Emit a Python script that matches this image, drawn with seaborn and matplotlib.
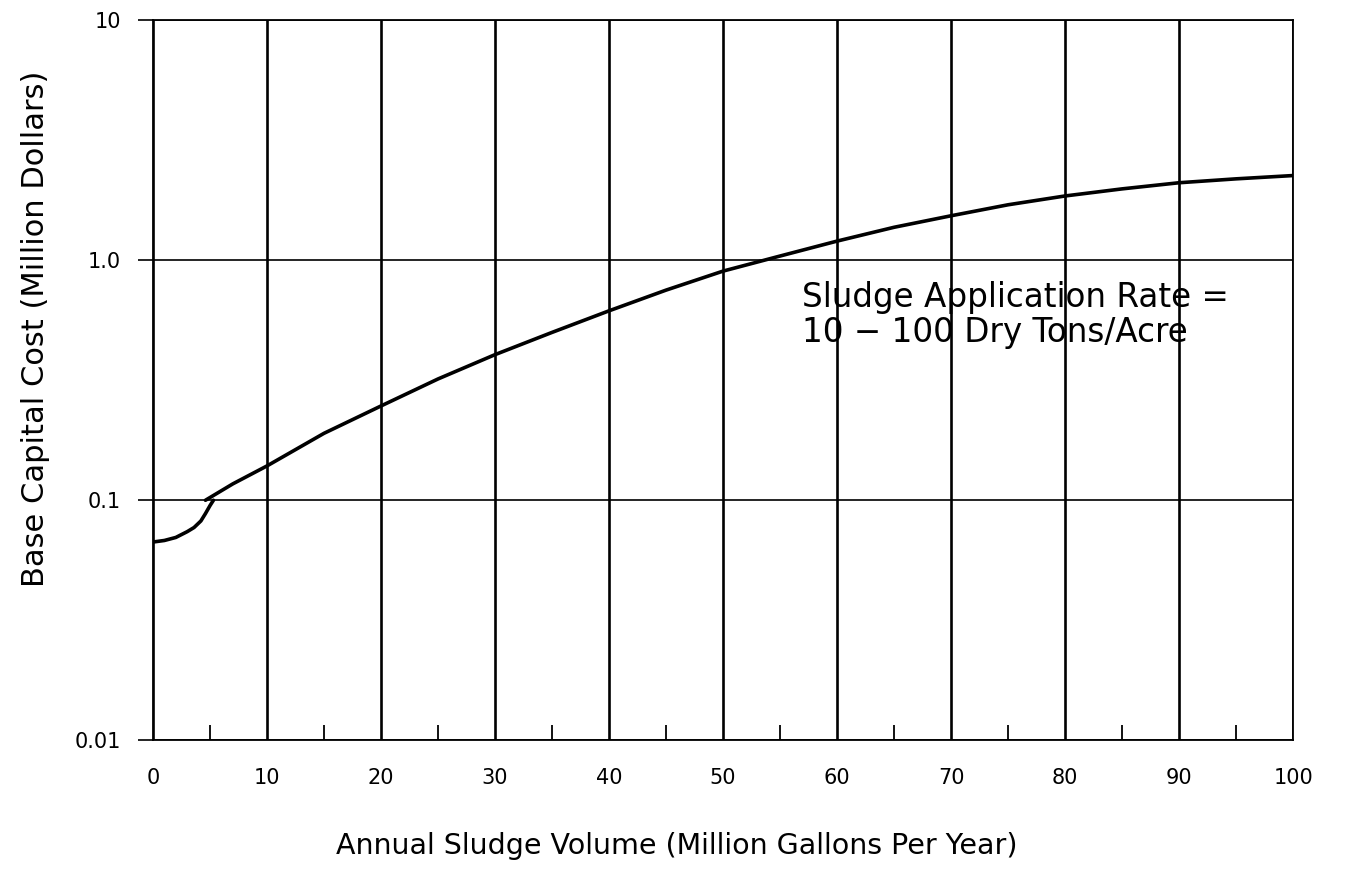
import matplotlib
matplotlib.use("Agg")
import matplotlib.pyplot as plt
import seaborn as sns
from matplotlib.ticker import FixedLocator, FixedFormatter

# Start-up segment (small systems, 0-5 MGY)
x_small = [0, 1, 2, 3, 3.6, 4.2, 4.6, 5.0, 5.3]
cost_small = [0.067, 0.068, 0.070, 0.074, 0.077, 0.082, 0.088, 0.095, 0.100]

# Main cost curve (5-100 MGY)
x_main = [4.6, 7, 10, 15, 20, 25, 30, 35, 40, 45, 50, 55, 60, 65, 70, 75, 80, 85, 90, 95, 100]
cost_main = [0.100, 0.117, 0.139, 0.19, 0.247, 0.32, 0.404, 0.50, 0.615, 0.75, 0.90,
             1.04, 1.20, 1.37, 1.53, 1.70, 1.85, 1.98, 2.10, 2.18, 2.25]

x_ticks = [0, 10, 20, 30, 40, 50, 60, 70, 80, 90, 100]
x_minor = [5, 15, 25, 35, 45, 55, 65, 75, 85, 95]
y_ticks = [0.01, 0.1, 1.0, 10]
y_tick_labels = ["0.01", "0.1", "1.0", "10"]

sns.set_style("white")
plt.rcParams["font.family"] = ["DejaVu Sans"]
plt.rcParams.update({
    "text.color": "black",
    "axes.labelcolor": "black",
    "xtick.color": "black",
    "ytick.color": "black",
})

fig = plt.figure(figsize=(13.54, 8.69), dpi=100)
ax = fig.add_axes([0.113, 0.148, 0.842, 0.829])

# vertical and horizontal grid
for xv in x_ticks:
    ax.axvline(xv, color="black", lw=1.9, zorder=1)
for yv in y_ticks:
    ax.axhline(yv, color="black", lw=1.2, zorder=1)

sns.lineplot(x=x_small, y=cost_small, ax=ax, color="black", lw=2.6, sort=False, zorder=3)
sns.lineplot(x=x_main, y=cost_main, ax=ax, color="black", lw=2.6, sort=False, zorder=3)

ax.set_yscale("log")
ax.set_xlim(0, 100)
ax.set_ylim(0.01, 10)

ax.xaxis.set_major_locator(FixedLocator(x_ticks))
ax.xaxis.set_minor_locator(FixedLocator(x_minor))
ax.yaxis.set_major_locator(FixedLocator(y_ticks))
ax.yaxis.set_major_formatter(FixedFormatter(y_tick_labels))
ax.yaxis.set_minor_locator(FixedLocator([]))

ax.tick_params(bottom=True, left=True, which="both")
ax.tick_params(axis="x", which="major", length=0, pad=20, labelsize=15)
ax.tick_params(axis="x", which="minor", direction="in", length=11, width=1.3)
ax.tick_params(axis="y", which="major", direction="out", length=11, width=1.2,
               pad=12, labelsize=15)

for s in ax.spines.values():
    s.set_color("black")
    s.set_linewidth(1.3)

ax.set_xlabel("Annual Sludge Volume (Million Gallons Per Year)", fontsize=20.5)
ax.set_ylabel("Base Capital Cost (Million Dollars)", fontsize=22)
ax.xaxis.set_label_coords(0.459, -0.146)
ax.xaxis.label.set_verticalalignment("center")
ax.yaxis.set_label_coords(-0.1035, 0.572)
ax.yaxis.label.set_verticalalignment("center")

ax.text(56.9, 0.59, "Sludge Application Rate =\n10 \u2212 100 Dry Tons/Acre",
        fontsize=23.5, ha="left", va="center", linespacing=1.05, zorder=4)

fig.savefig("out.png", dpi=100, facecolor="white")
